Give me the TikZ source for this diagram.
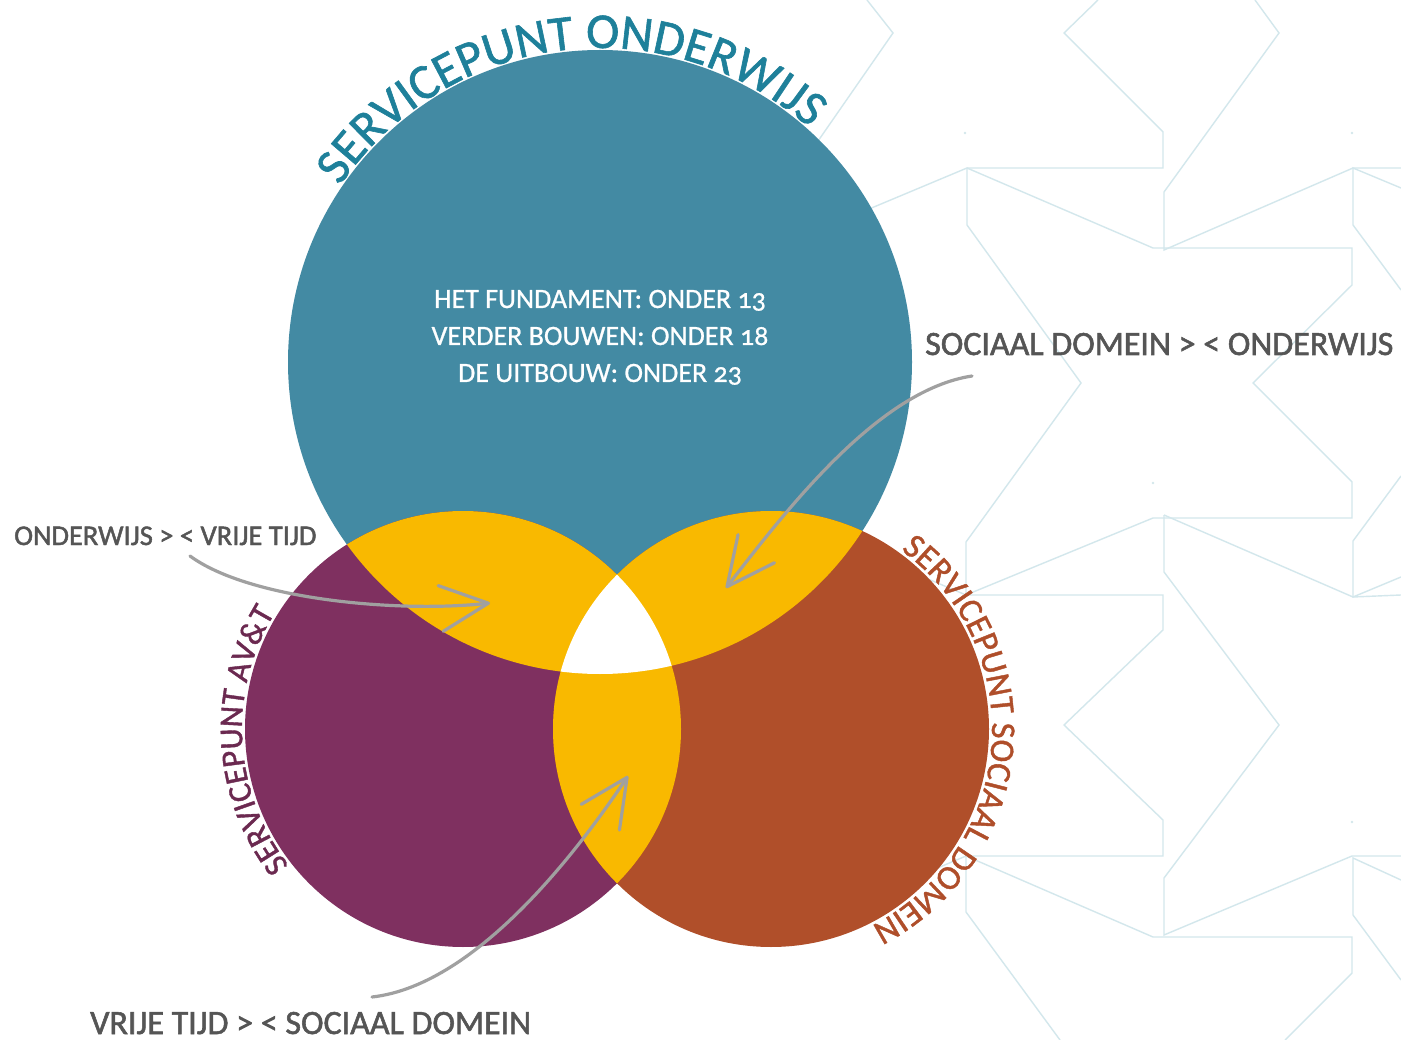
\documentclass[tikz,border=0pt]{standalone}
\usepackage{fontspec}
\setmainfont{Carlito}[Numbers=OldStyle]
\newfontfamily\lblfont{Carlito}[Numbers=OldStyle,FakeBold=1.6]
\newfontfamily\ttlfont{Carlito}[Numbers=OldStyle,FakeBold=1.2]
\newfontfamily\ctrfont{Carlito}[Numbers=OldStyle,FakeBold=0.8]
\usetikzlibrary{decorations.text,arrows.meta}
\definecolor{bgline}{HTML}{D3E7EC}
\definecolor{cblue}{HTML}{438AA3}
\definecolor{cpurple}{HTML}{7F3060}
\definecolor{corange}{HTML}{B04F2A}
\definecolor{cyellow}{HTML}{F9B900}
\definecolor{arrowgray}{HTML}{A0A0A0}
\definecolor{labelgray}{HTML}{555555}
\definecolor{tblue}{HTML}{1E809A}
\definecolor{tpurple}{HTML}{6B2950}
\definecolor{torange}{HTML}{AF4E2A}
\begin{document}
\begin{tikzpicture}[x=1pt,y=1pt,
  pat/.style={draw=bgline,line width=1.4pt,line join=miter},
  conn/.style={draw=arrowgray,line width=3.2pt,line cap=round,
    -{Straight Barb[length=48pt,width=46pt,line width=3.2pt,round]}},
  lbl/.style={inner sep=0pt,anchor=base west,text=labelgray},
  ctext/.style={inner sep=0pt,anchor=base,text=white,font=\ctrfont\fontsize{28}{30}\selectfont}]
\useasboundingbox (0,0) rectangle (1401,-1040);
\fill[white] (0,0) rectangle (1401,-1040);

% background pattern
\draw[pat] (867,0) -- (893,-33) -- (800,-167);
\draw[pat] (1098,0) -- (1064,-33) -- (1163,-132) -- (1163,-168) -- (967,-168);
\draw[pat] (850,-217) -- (967,-168) -- (1153,-248) -- (1352,-248) -- (1352,-285) -- (1253,-383) -- (1352,-482) -- (1352,-518) -- (1153,-518) -- (966,-595) -- (871,-555);
\draw[pat] (967,-168) -- (967,-225) -- (1081,-383) -- (966,-542) -- (966,-595) -- (1163,-595) -- (1163,-630) -- (1064,-725) -- (1163,-820) -- (1163,-856) -- (966,-856) -- (966,-912) -- (1060,-1040);
\draw[pat] (871,-896) -- (966,-856) -- (1153,-937) -- (1352,-937) -- (1352,-973) -- (1285,-1040);
\draw[pat] (1255,0) -- (1279,-33) -- (1164,-192) -- (1164,-250) -- (1353,-168) -- (1401,-168);
\draw[pat] (1401,-188) -- (1353,-168) -- (1353,-225) -- (1401,-290);
\draw[pat] (1164,-515) -- (1164,-572) -- (1279,-725) -- (1164,-878) -- (1164,-935) -- (1352,-856) -- (1401,-856);
\draw[pat] (1164,-515) -- (1353,-597) -- (1401,-577);
\draw[pat] (1401,-476) -- (1353,-541) -- (1353,-597) -- (1401,-595);
\draw[pat] (1401,-880) -- (1353,-858) -- (1353,-915) -- (1401,-980);
\foreach \p in {(965,-133),(1352,-133),(1153,-483),(1352,-822)}
  \fill[bgline] \p circle[radius=1.3];

% circles
\coordinate (cB) at (600,-362);
\coordinate (cP) at (463,-729);
\coordinate (cO) at (771,-729);
\fill[cblue] (cB) circle[radius=312];
\fill[cpurple] (cP) circle[radius=218];
\fill[corange] (cO) circle[radius=218];
\begin{scope}
  \clip (cB) circle[radius=312];
  \fill[cyellow] (cP) circle[radius=218];
  \fill[cyellow] (cO) circle[radius=218];
\end{scope}
\begin{scope}
  \clip (cP) circle[radius=218];
  \fill[cyellow] (cO) circle[radius=218];
\end{scope}
\begin{scope}
  \clip (cB) circle[radius=312];
  \clip (cP) circle[radius=218];
  \fill[white] (cO) circle[radius=218];
\end{scope}

% curved titles
\path[decorate,decoration={text along path,text align=center,text color=tblue,
  text={|\ttlfont\fontsize{50}{60}\selectfont|SERVICEPUNT ONDERWIJS}}]
  ([shift={(166.5:314)}]cB) arc[start angle=166.5,end angle=27.5,radius=314];
\path[decorate,decoration={text along path,text align=center,text color=tpurple,
  text={|\ttlfont\fontsize{33}{40}\selectfont|SERVICEPUNT AV{\&}T}}]
  ([shift={(240:221)}]cP) arc[start angle=240,end angle=126.4,radius=221];
\path[decorate,decoration={text along path,text align=center,text color=torange,
  text={|\ttlfont\fontsize{34.5}{40}\selectfont|SERVICEPUNT SOCIAAL DOMEIN}}]
  ([shift={(60:221)}]cO) arc[start angle=60,end angle=-69,radius=221];

% centre text
\node[ctext] (t1) at (600,-308) {HET FUNDAMENT: ONDER 13};
\node[ctext] (t2) at (600,-345) {VERDER BOUWEN: ONDER 18};
\node[ctext] (t3) at (600,-382) {DE UITBOUW: ONDER 23};

% labels
\node[lbl,font=\lblfont\fontsize{28.5}{30}\selectfont] (l1) at (14,-545) {ONDERWIJS > < VRIJE TIJD};
\node[lbl,font=\lblfont\fontsize{34}{36}\selectfont] (l2) at (925,-355) {SOCIAAL DOMEIN > < ONDERWIJS};
\node[lbl,font=\lblfont\fontsize{34}{36}\selectfont] (l3) at (90,-1034) {VRIJE TIJD > < SOCIAAL DOMEIN};

% arrows
\coordinate (a1s) at (190,-556);
\coordinate (a1e) at (490,-603);
\coordinate (a2s) at (972,-376);
\coordinate (a2e) at (726,-588);
\coordinate (a3s) at (372,-997);
\coordinate (a3e) at (628,-776);
\draw[conn] (a1s) .. controls (250,-600) and (400,-613) .. (a1e);
\draw[conn] (a2s) .. controls (880,-390) and (790,-505) .. (a2e);
\draw[conn] (a3s) .. controls (480,-985) and (585,-840) .. (a3e);
\end{tikzpicture}
\end{document}
